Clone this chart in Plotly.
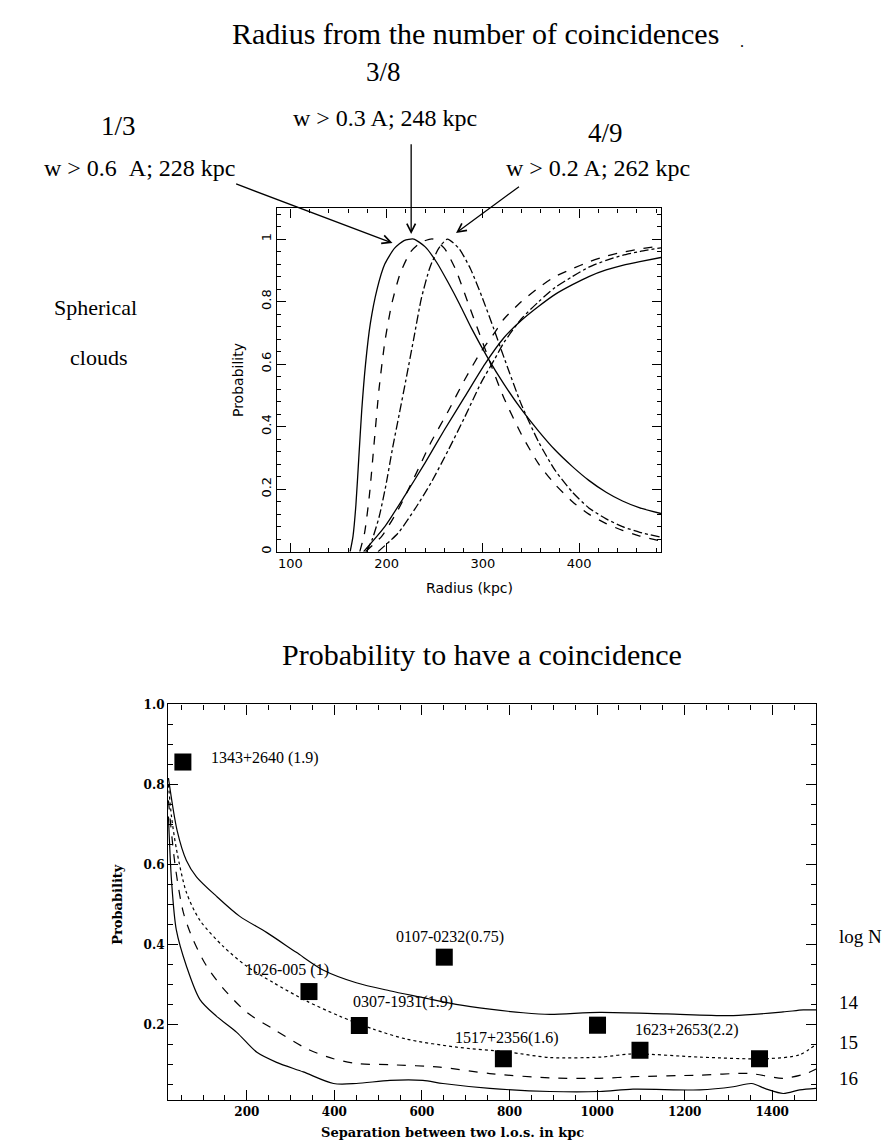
import plotly.graph_objects as go

W, H = 891, 1142

# ---------------- Top panel data (Radius vs Probability) ----------------
r_solid_peak = [162, 165, 168, 171, 174, 178, 183, 190, 198, 208, 218, 228, 240, 252, 264, 276, 288, 305, 322, 340, 358, 375, 393, 410, 428, 445, 463, 485]
p_solid_peak = [0, 0.05, 0.15, 0.30, 0.45, 0.60, 0.73, 0.84, 0.92, 0.97, 0.995, 1.0, 0.975, 0.925, 0.86, 0.79, 0.715, 0.62, 0.535, 0.455, 0.385, 0.325, 0.272, 0.228, 0.19, 0.162, 0.14, 0.122]

r_dash_peak = [172, 177, 182, 187, 192, 198, 205, 214, 225, 236, 248, 260, 272, 284, 296, 308, 322, 340, 358, 375, 393, 410, 428, 445, 463, 485]
p_dash_peak = [0, 0.06, 0.18, 0.35, 0.52, 0.67, 0.79, 0.89, 0.96, 0.99, 1.0, 0.97, 0.90, 0.80, 0.70, 0.60, 0.49, 0.375, 0.28, 0.215, 0.16, 0.12, 0.09, 0.068, 0.05, 0.034]

r_dd_peak = [179, 185, 192, 199, 206, 213, 220, 228, 236, 245, 254, 263, 275, 287, 299, 311, 322, 340, 358, 375, 393, 410, 428, 445, 463, 485]
p_dd_peak = [0, 0.04, 0.11, 0.21, 0.33, 0.44, 0.55, 0.68, 0.81, 0.91, 0.97, 1.0, 0.97, 0.905, 0.815, 0.715, 0.62, 0.47, 0.35, 0.26, 0.19, 0.14, 0.105, 0.08, 0.062, 0.046]

r_solid_rise = [176, 198, 219, 240, 260, 281, 302, 322, 340, 358, 375, 393, 410, 428, 445, 463, 485]
p_solid_rise = [0, 0.08, 0.18, 0.285, 0.39, 0.495, 0.60, 0.685, 0.74, 0.785, 0.823, 0.854, 0.88, 0.901, 0.916, 0.928, 0.941]

r_dash_rise = [178, 195, 212, 229, 246, 264, 281, 298, 312, 322, 340, 358, 375, 393, 410, 428, 445, 463, 485]
p_dash_rise = [0, 0.05, 0.135, 0.24, 0.35, 0.45, 0.55, 0.64, 0.70, 0.745, 0.80, 0.845, 0.88, 0.905, 0.927, 0.945, 0.958, 0.968, 0.978]

r_dd_rise = [191, 212, 229, 246, 264, 281, 298, 312, 322, 340, 358, 375, 393, 410, 428, 445, 463, 485]
p_dd_rise = [0, 0.06, 0.135, 0.22, 0.325, 0.43, 0.54, 0.615, 0.67, 0.745, 0.80, 0.845, 0.88, 0.91, 0.932, 0.948, 0.96, 0.972]

top_xticks = [100, 200, 300, 400]
top_yticks = [0, 0.2, 0.4, 0.6, 0.8, 1.0]
top_yticktext = ["0", "0.2", "0.4", "0.6", "0.8", "1"]

# ---------------- Bottom panel data (Separation vs Probability) ----------------
sep_n14 = [21, 41, 62, 85, 131, 184, 245, 313, 374, 450, 526, 602, 678, 755, 831, 892, 1006, 1159, 1311, 1425, 1471, 1500]
prob_n14 = [0.816, 0.684, 0.61, 0.569, 0.52, 0.47, 0.43, 0.38, 0.336, 0.304, 0.284, 0.267, 0.25, 0.238, 0.229, 0.225, 0.23, 0.226, 0.222, 0.231, 0.236, 0.236]

sep_n15 = [21, 28, 39, 62, 93, 146, 200, 261, 337, 413, 489, 565, 679, 794, 893, 1006, 1082, 1235, 1387, 1463, 1500]
prob_n15 = [0.80, 0.72, 0.64, 0.53, 0.46, 0.395, 0.345, 0.304, 0.258, 0.22, 0.188, 0.163, 0.143, 0.131, 0.117, 0.118, 0.126, 0.118, 0.114, 0.124, 0.15]

sep_n16 = [21, 36, 55, 78, 108, 146, 200, 261, 337, 398, 450, 526, 641, 755, 892, 1006, 1082, 1235, 1349, 1425, 1478, 1500]
prob_n16 = [0.76, 0.60, 0.48, 0.41, 0.346, 0.29, 0.23, 0.188, 0.139, 0.114, 0.102, 0.099, 0.093, 0.077, 0.066, 0.065, 0.069, 0.073, 0.077, 0.065, 0.077, 0.088]

sep_low = [21, 28, 39, 62, 93, 131, 177, 223, 268, 329, 398, 450, 527, 602, 648, 755, 892, 1006, 1082, 1235, 1311, 1353, 1387, 1425, 1463, 1500]
prob_low = [0.72, 0.56, 0.436, 0.346, 0.262, 0.22, 0.18, 0.13, 0.105, 0.081, 0.052, 0.052, 0.06, 0.06, 0.052, 0.040, 0.032, 0.032, 0.038, 0.036, 0.044, 0.052, 0.038, 0.027, 0.036, 0.040]

qso_sep = [54, 342, 457, 651, 786, 1001, 1098, 1371]
qso_prob = [0.856, 0.282, 0.197, 0.368, 0.114, 0.198, 0.135, 0.114]

qso_names = ["1343+2640 (1.9)", "1026-005 (1)", "0307-1931(1.9)", "0107-0232(0.75)",
             "1517+2356(1.6)", "1623+2653(2.2)"]
qso_label_sep = [114, 292, 557, 664, 794, 1205]
qso_label_prob = [0.865, 0.335, 0.255, 0.419, 0.166, 0.186]
qso_label_anchor = ["left", "center", "center", "center", "center", "center"]

bot_xticks = [200, 400, 600, 800, 1000, 1200, 1400]
bot_yticks = [0.2, 0.4, 0.6, 0.8, 1.0]

logN_labels = ["log N", "14", "15", "16"]

# ---------------- Figure ----------------
def px_x(x):
    return x / W

def px_y(y):
    return 1 - y / H

fig = go.Figure()

lw = 1.3
top_series = [
    (r_solid_peak, p_solid_peak, "solid"),
    (r_dash_peak, p_dash_peak, "dash"),
    (r_dd_peak, p_dd_peak, "dashdot"),
    (r_solid_rise, p_solid_rise, "solid"),
    (r_dash_rise, p_dash_rise, "dash"),
    (r_dd_rise, p_dd_rise, "dashdot"),
]
for xs, ys, d in top_series:
    fig.add_trace(go.Scatter(x=xs, y=ys, mode="lines", xaxis="x", yaxis="y",
                             line=dict(color="black", width=lw, dash=d, shape="spline", smoothing=0.6),
                             showlegend=False, hoverinfo="skip"))

bot_series = [
    (sep_n14, prob_n14, "solid"),
    (sep_n15, prob_n15, "dot"),
    (sep_n16, prob_n16, "dash"),
    (sep_low, prob_low, "solid"),
]
for xs, ys, d in bot_series:
    fig.add_trace(go.Scatter(x=xs, y=ys, mode="lines", xaxis="x2", yaxis="y2",
                             line=dict(color="black", width=1.2, dash=d, shape="spline", smoothing=0.8),
                             showlegend=False, hoverinfo="skip"))

fig.add_trace(go.Scatter(x=qso_sep, y=qso_prob, mode="markers", xaxis="x2", yaxis="y2",
                         marker=dict(symbol="square", size=17, color="black"),
                         showlegend=False, hoverinfo="skip"))

axis_common = dict(showline=True, linecolor="black", linewidth=1.2, mirror="allticks",
                   ticks="inside", tickcolor="black", showgrid=False, zeroline=False)

top_font = dict(family="DejaVu Sans", size=13, color="black")
bot_font = dict(family="DejaVu Serif", size=12, color="black", weight="bold")

fig.update_layout(
    width=W, height=H,
    margin=dict(l=0, r=0, t=0, b=0),
    paper_bgcolor="white", plot_bgcolor="white",
    xaxis=dict(domain=[px_x(277), px_x(661)], anchor="y", range=[86, 485],
               tickvals=top_xticks, ticklen=9, tickwidth=1,
               minor=dict(dtick=20, tick0=0, ticklen=4, ticks="inside", tickcolor="black"),
               tickfont=top_font, **axis_common),
    yaxis=dict(domain=[px_y(549), px_y(203)], anchor="x", range=[0, 1.098],
               tickvals=top_yticks, ticktext=top_yticktext, tickangle=-90, ticklen=9,
               minor=dict(dtick=0.04, tick0=0, ticklen=4, ticks="inside", tickcolor="black"),
               tickfont=top_font, **axis_common),
    xaxis2=dict(domain=[px_x(168), px_x(816)], anchor="y2", range=[20, 1500],
                tickvals=bot_xticks, ticklen=10,
                minor=dict(dtick=50, tick0=0, ticklen=5, ticks="inside", tickcolor="black"),
                tickfont=bot_font, **axis_common),
    yaxis2=dict(domain=[px_y(1102), px_y(703)], anchor="x2", range=[0.01, 1.0],
                tickvals=bot_yticks, tickformat=".1f", ticklen=10,
                minor=dict(dtick=0.05, tick0=0, ticklen=5, ticks="inside", tickcolor="black"),
                tickfont=bot_font, **axis_common),
)

serif = "Liberation Serif"
ann = []

def txt(x, y, s, size, family=serif, angle=0, xanchor="center", weight="normal"):
    ann.append(dict(x=px_x(x), y=px_y(y), xref="paper", yref="paper", text=s,
                    showarrow=False, xanchor=xanchor, yanchor="middle", textangle=angle,
                    font=dict(family=family, size=size, color="black", weight=weight)))

txt(475, 27, "Radius from the number of coincidences", 30)
txt(742, 35, ".", 16)
txt(383, 66, "3/8", 27)
txt(385, 112, "w &gt; 0.3 A; 248 kpc", 24)
txt(118, 120, "1/3", 27)
txt(605, 127, "4/9", 27)
txt(140, 162, "w &gt; 0.6 &nbsp;A; 228 kpc", 24)
txt(598, 162, "w &gt; 0.2 A; 262 kpc", 24)
txt(95, 303, "Spherical", 22)
txt(98, 353, "clouds", 22)

# Top panel axis titles
txt(238, 376, "Probability", 14, family="DejaVu Sans", angle=-90)
txt(469, 586, "Radius (kpc)", 14, family="DejaVu Sans")

# Bottom panel titles
txt(482, 653, "Probability to have a coincidence", 30)
txt(118, 905, "Probability", 13, family="DejaVu Serif", angle=-90, weight="bold")
txt(452, 1134, "Separation between two l.o.s. in kpc", 13, family="DejaVu Serif", weight="bold")

# log N labels
txt(837, 937, logN_labels[0], 19, xanchor="left")
txt(837, 1003, logN_labels[1], 19, xanchor="left")
txt(837, 1044, logN_labels[2], 19, xanchor="left")
txt(837, 1080, logN_labels[3], 19, xanchor="left")

# QSO labels
for name, xs, ys, xa in zip(qso_names, qso_label_sep, qso_label_prob, qso_label_anchor):
    ann.append(dict(x=xs, y=ys, xref="x2", yref="y2", text=name, showarrow=False,
                    xanchor=xa, yanchor="middle",
                    font=dict(family=serif, size=16, color="black")))

# Arrows in top panel (tip and tail in data coords; tails lie above the frame)
arrow_tips = [(206, 0.987), (225.4, 1.016), (272, 1.019)]
arrow_tails = [(42, 1.178), (225.4, 1.308), (339, 1.171)]
for (tx, ty), (ax_, ay_) in zip(arrow_tips, arrow_tails):
    ann.append(dict(x=tx, y=ty, xref="x", yref="y", ax=ax_, ay=ay_, axref="x", ayref="y",
                    text="", showarrow=True, arrowhead=5, arrowsize=1.3, arrowwidth=1.3,
                    arrowcolor="black"))

fig.update_layout(annotations=ann)
fig.write_html("out.html")
